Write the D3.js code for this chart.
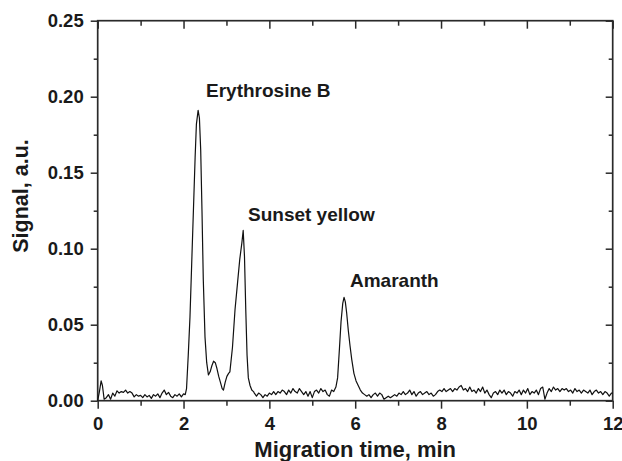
<!DOCTYPE html>
<html><head><meta charset="utf-8">
<script src="https://cdn.jsdelivr.net/npm/d3@7"></script>
<style>
body{margin:0;background:#fff;}
svg text{font-family:"Liberation Sans",Arial,sans-serif;font-weight:bold;fill:#1a1a1a;}
</style></head>
<body><svg id="c" width="622" height="461"></svg>
<script>
const xMajor=[0,2,4,6,8,10,12];
const xMinor=[1,3,5,7,9,11];
const yMajor=[0,0.05,0.10,0.15,0.20,0.25];
const yMinor=[0.025,0.075,0.125,0.175,0.225];
const peakLabels=["Erythrosine B","Sunset yellow","Amaranth"];
const peakTimes=[2.34,3.39,5.74];
const time=[0,0.04,0.08,0.11,0.15,0.2,0.25,0.3,0.35,0.4,0.45,0.5,0.55,0.6,0.65,0.7,0.75,0.8,0.85,0.9,0.95,1,1.05,1.1,1.15,1.2,1.25,1.3,1.35,1.4,1.45,1.5,1.55,1.6,1.65,1.7,1.75,1.8,1.85,1.9,1.95,2,2.04,
2.07,2.11,2.15,2.19,2.23,2.27,2.3,2.34,2.37,2.4,2.43,2.46,2.5,2.54,2.58,2.62,2.66,2.7,2.74,2.78,2.82,2.86,2.9,2.93,2.97,3.01,3.05,3.08,3.14,3.2,3.26,3.31,3.36,3.39,3.42,3.45,3.48,3.51,3.55,3.59,3.63,
3.65,3.7,3.75,3.8,3.85,3.9,3.95,4,4.05,4.1,4.15,4.2,4.25,4.3,4.35,4.4,4.45,4.5,4.55,4.6,4.65,4.7,4.75,4.8,4.85,4.9,4.95,5,5.05,5.1,5.15,5.2,5.25,5.3,5.35,5.4,5.45,5.5,5.55,5.59,5.63,5.67,5.71,5.74,5.77,5.8,5.84,5.88,5.92,5.97,6.02,6.07,6.12,6.17,6.22,6.27,6.32,6.37,6.42,6.47,6.52,6.57,6.62,6.67,6.72,6.77,6.82,6.87,6.92,6.97,
7.02,7.07,7.12,7.17,7.22,7.27,7.32,7.37,7.42,7.47,7.52,7.57,7.62,7.67,7.72,7.77,7.82,7.87,7.92,7.97,8.02,8.07,8.12,8.17,8.22,8.27,8.32,8.37,8.42,8.47,8.52,8.57,8.62,8.67,8.72,8.77,8.82,8.87,8.92,8.97,
9.02,9.07,9.12,9.17,9.22,9.27,9.32,9.37,9.42,9.47,9.52,9.57,9.62,9.67,9.72,9.77,9.82,9.87,9.92,9.97,10.02,10.07,10.12,10.17,10.22,10.27,10.32,10.37,10.42,10.47,10.52,10.57,10.62,10.67,10.72,10.77,10.82,10.87,10.92,10.97,
11.02,11.07,11.12,11.17,11.22,11.27,11.32,11.37,11.42,11.47,11.52,11.57,11.62,11.67,11.72,11.77,11.82,11.87,11.92,11.97,12];
const signal=[0,0.006,0.013,0.01,0.001,0.002,0.004,0.001,0.005,0.003,0.0065,0.005,0.006,0.0055,0.007,0.005,0.006,0.005,0.0025,0.004,0.003,0.0035,0.002,0.004,0.0025,0.0035,0.0015,0.004,0.003,0.0045,0.002,0.005,0.007,0.004,0.0055,0.003,0.002,0.004,0.003,0.0045,0.0025,0.0045,0.004,
0.008,0.03,0.055,0.09,0.125,0.16,0.182,0.191,0.186,0.165,0.125,0.08,0.042,0.025,0.017,0.019,0.023,0.026,0.025,0.021,0.016,0.012,0.008,0.007,0.012,0.016,0.018,0.019,0.035,0.06,0.078,0.093,0.104,0.112,0.095,0.06,0.03,0.015,0.01,0.007,0.006,
0.005,0.003,0.005,0.004,0.002,0.004,0.003,0.005,0.004,0.006,0.004,0.006,0.005,0.007,0.006,0.004,0.007,0.005,0.008,0.006,0.005,0.008,0.006,0.004,0.006,0.003,0.006,0.002,0.006,0.007,0.005,0.008,0.006,0.007,0.004,0.003,0.007,0.006,0.009,0.015,0.033,0.052,0.064,0.068,0.065,0.058,0.046,0.036,0.027,0.018,0.013,0.01,0.007,0.005,0.004,0.003,0.004,0.002,0.004,0.005,0.003,0.005,0.004,0.001,0.002,0.003,0.002,0.003,0.004,0.003,
0.005,0.004,0.006,0.004,0.005,0.007,0.004,0.006,0.003,0.005,0.006,0.004,0.005,0.006,0.004,0.005,0.003,0.004,0.006,0.007,0.006,0.008,0.006,0.007,0.008,0.006,0.008,0.007,0.009,0.01,0.007,0.008,0.006,0.009,0.006,0.007,0.005,0.008,0.006,0.009,
0.005,0.007,0.004,0.002,0.005,0.006,0.004,0.007,0.005,0.007,0.004,0.006,0.005,0.003,0.006,0.005,0.007,0.004,0.007,0.005,0.008,0.004,0.006,0.005,0.007,0.004,0.008,0.009,0.001,0.005,0.008,0.006,0.009,0.007,0.008,0.006,0.008,0.007,0.008,0.006,
0.007,0.005,0.008,0.006,0.007,0.005,0.007,0.006,0.005,0.007,0.004,0.006,0.007,0.005,0.006,0.004,0.006,0.005,0.003,0.005,0.005];

const svg=d3.select("#c");
const L=97.7,R=612.7,T=20.7,B=400.7;
const x=d3.scaleLinear().domain([0,12]).range([L,R]);
const y=d3.scaleLinear().domain([0,0.25]).range([B,T]);
const axCol="#2a2a2a";

function styleAxis(g){g.select(".domain").remove();g.selectAll("line").attr("stroke",axCol).attr("stroke-width",1.5);}

// bottom
svg.append("g").attr("transform",`translate(0,${B})`).call(d3.axisBottom(x).tickValues(xMajor).tickSize(8).tickPadding(8).tickFormat(d3.format("d"))).call(styleAxis)
  .selectAll("text").attr("font-size",18.5).attr("fill","#1a1a1a");
svg.append("g").attr("transform",`translate(0,${B})`).call(d3.axisBottom(x).tickValues(xMinor).tickSize(5).tickFormat("")).call(styleAxis);
// top
svg.append("g").attr("transform",`translate(0,${T})`).call(d3.axisTop(x).tickValues(xMajor).tickSize(-8).tickFormat("")).call(styleAxis);
svg.append("g").attr("transform",`translate(0,${T})`).call(d3.axisTop(x).tickValues(xMinor).tickSize(-5).tickFormat("")).call(styleAxis);
// left
svg.append("g").attr("transform",`translate(${L},0)`).call(d3.axisLeft(y).tickValues(yMajor).tickSize(7).tickPadding(7).tickFormat(d3.format(".2f"))).call(styleAxis)
  .selectAll("text").attr("font-size",18.5).attr("fill","#1a1a1a");
svg.append("g").attr("transform",`translate(${L},0)`).call(d3.axisLeft(y).tickValues(yMinor).tickSize(4).tickFormat("")).call(styleAxis);
// right
svg.append("g").attr("transform",`translate(${R},0)`).call(d3.axisRight(y).tickValues(yMajor).tickSize(-7).tickFormat("")).call(styleAxis);
svg.append("g").attr("transform",`translate(${R},0)`).call(d3.axisRight(y).tickValues(yMinor).tickSize(-4).tickFormat("")).call(styleAxis);

// frame
svg.append("rect").attr("x",L).attr("y",T).attr("width",R-L).attr("height",B-T)
  .attr("fill","none").attr("stroke",axCol).attr("stroke-width",1.7);

// curve
const pts=time.map((t,i)=>[t,signal[i]]);
svg.append("path").datum(pts).attr("fill","none").attr("stroke","#111").attr("stroke-width",1.2)
  .attr("stroke-linejoin","round")
  .attr("d",d3.line().x(d=>x(d[0])).y(d=>y(d[1])));

// peak labels
const labelPos=[[206,97],[248,221],[350,287]];
peakLabels.forEach((s,i)=>{
  svg.append("text").attr("x",labelPos[i][0]).attr("y",labelPos[i][1]).attr("font-size",19).text(s);
});

// axis titles
svg.append("text").attr("x",(L+R)/2).attr("y",457).attr("text-anchor","middle").attr("font-size",22).text("Migration time, min");
svg.append("text").attr("transform","translate(28,196) rotate(-90)").attr("text-anchor","middle").attr("font-size",21.5).text("Signal, a.u.");
</script></body></html>
